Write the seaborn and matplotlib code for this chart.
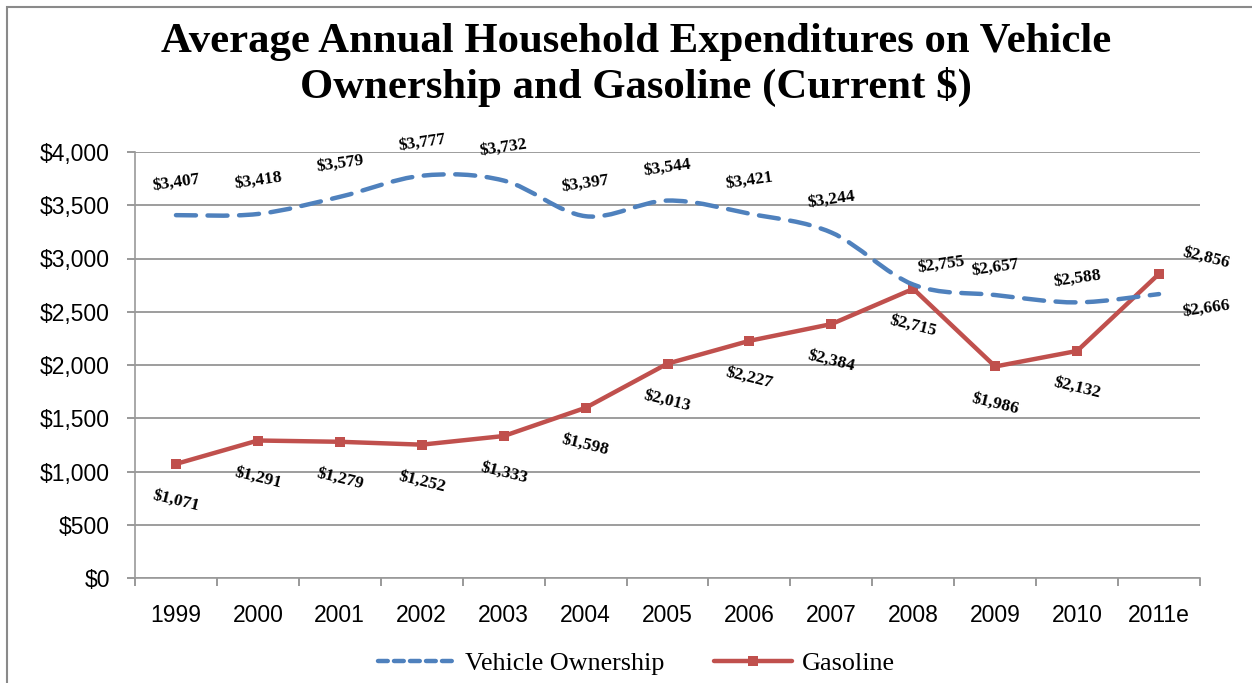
import matplotlib
matplotlib.use("Agg")
import matplotlib.pyplot as plt
import seaborn as sns
import pandas as pd
import numpy as np
from matplotlib.path import Path
from matplotlib.patches import PathPatch, Rectangle
from matplotlib.lines import Line2D

years = ["1999", "2000", "2001", "2002", "2003", "2004", "2005", "2006",
         "2007", "2008", "2009", "2010", "2011e"]
vehicle = [3407, 3418, 3579, 3777, 3732, 3397, 3544, 3421, 3244, 2755, 2657, 2588, 2666]
gasoline = [1071, 1291, 1279, 1252, 1333, 1598, 2013, 2227, 2384, 2715, 1986, 2132, 2856]
yticks = [0, 500, 1000, 1500, 2000, 2500, 3000, 3500, 4000]

BLUE = "#4F81BD"
RED = "#C0504D"

sns.set_theme(style="white")
plt.rcParams["font.family"] = ["Liberation Sans", "DejaVu Sans"]
plt.rcParams["text.color"] = "black"

fig = plt.figure(figsize=(12.52, 6.83), dpi=100)
ax = fig.add_axes([135 / 1252, 1 - 578 / 683, (1200 - 135) / 1252, (578 - 152) / 683])

x = np.arange(len(years))
df = pd.DataFrame({"x": x, "Gasoline": gasoline, "Vehicle": vehicle})

# Gasoline: straight line with square markers
sns.lineplot(data=df, x="x", y="Gasoline", ax=ax, color=RED, linewidth=3.2,
             marker="s", markersize=7, markeredgewidth=0, legend=False, zorder=3)

# Vehicle ownership: smoothed (Excel-style) dashed line as Bezier path
verts = [(x[0], vehicle[0])]
codes = [Path.MOVETO]
n = len(x)
for i in range(n - 1):
    p0 = np.array([x[max(i - 1, 0)], vehicle[max(i - 1, 0)]], float)
    p1 = np.array([x[i], vehicle[i]], float)
    p2 = np.array([x[i + 1], vehicle[i + 1]], float)
    p3 = np.array([x[min(i + 2, n - 1)], vehicle[min(i + 2, n - 1)]], float)
    c1 = p1 + (p2 - p0) / 6.0
    c2 = p2 - (p3 - p1) / 6.0
    verts += [tuple(c1), tuple(c2), tuple(p2)]
    codes += [Path.CURVE4] * 3
patch = PathPatch(Path(verts, codes), facecolor="none", edgecolor=BLUE,
                  linewidth=3.2, linestyle=(0, (4.5, 2.6)), capstyle="round", zorder=3)
ax.add_patch(patch)

ax.set_xlim(-0.5, n - 0.5)
ax.set_ylim(0, 4000)
ax.set_yticks(yticks)
ax.set_yticklabels([f"${v:,}" for v in yticks], fontsize=16.5)
ax.set_xticks(x)
ax.set_xticklabels(years, fontsize=16.5)
ax.set_xticks(np.arange(-0.5, n, 1.0), minor=True)
ax.tick_params(axis="x", which="major", length=0, pad=19, labelcolor="black")
ax.tick_params(axis="x", which="minor", length=6, color="#888888", width=1.2, direction="out", bottom=True)
ax.tick_params(axis="y", length=6, color="#888888", width=1.2, direction="out", left=True, pad=12,
               labelcolor="black")
ax.set_xlabel("")
ax.set_ylabel("")
ax.yaxis.grid(True, color="#8c8c8c", linewidth=1.2)
ax.xaxis.grid(False)
for s in ["top", "right"]:
    ax.spines[s].set_visible(False)
for s in ["left", "bottom"]:
    ax.spines[s].set_color("#999999")
    ax.spines[s].set_linewidth(1.2)

# Data labels
lab_font = dict(family=["Liberation Serif", "DejaVu Serif"], weight="bold", fontsize=12.5,
                color="black")
veh_off = {9: (28, 20), 10: (0, 27), 11: (0, 24), 12: (47, -15)}
gas_off = {12: (47, 16)}
for i in range(n):
    dx, dy = veh_off.get(i, (0, 33))
    ax.annotate(f"${vehicle[i]:,}", (x[i], vehicle[i]), xytext=(dx, dy),
                textcoords="offset pixels", ha="center", va="center",
                rotation=8, **lab_font)
    dx, dy = gas_off.get(i, (0, -37))
    ax.annotate(f"${gasoline[i]:,}", (x[i], gasoline[i]), xytext=(dx, dy),
                textcoords="offset pixels", ha="center", va="center",
                rotation=-14, **lab_font)

# Title
fig.text(0.508, 1 - 65 / 683,
         "Average Annual Household Expenditures on Vehicle\nOwnership and Gasoline (Current $)",
         ha="center", va="center", family=["Liberation Serif", "DejaVu Serif"],
         weight="bold", fontsize=30.8, linespacing=1.22, color="black")

# Legend
handles = [
    Line2D([], [], color=BLUE, linewidth=3.2, linestyle=(0, (2.2, 1.4)), dash_capstyle="round"),
    Line2D([], [], color=RED, linewidth=3.2, marker="s", markersize=7, markeredgewidth=0),
]
leg = fig.legend(handles, ["Vehicle Ownership", "Gasoline"], loc="center",
                 bbox_to_anchor=(0.508, 1 - 663 / 683), ncol=2, frameon=False,
                 prop={"family": ["Liberation Serif", "DejaVu Serif"], "size": 18.8},
                 handlelength=3.0, handletextpad=0.35, columnspacing=1.9)
for t in leg.get_texts():
    t.set_color("black")

# Chart border
fig.patches.append(Rectangle((7 / 1252, -0.05), 1.2, 1 - 7 / 683 + 0.05,
                             transform=fig.transFigure, fill=False,
                             edgecolor="#8a8a8a", linewidth=1.5, zorder=0))

fig.savefig("out.png", dpi=100)
